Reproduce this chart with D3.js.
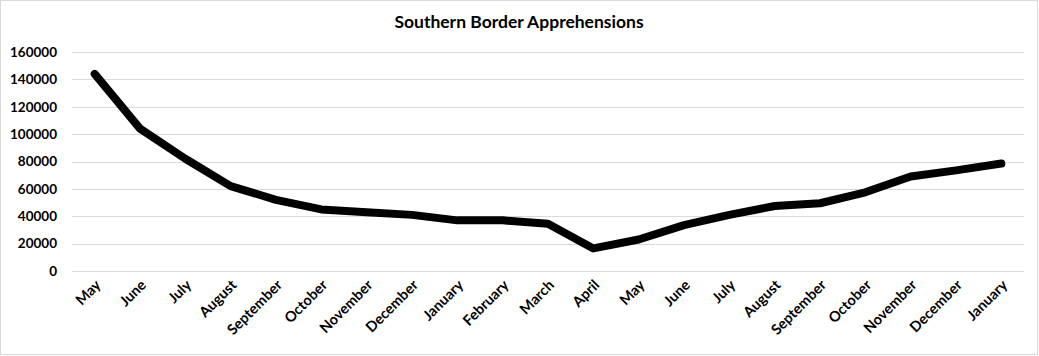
<!DOCTYPE html>
<html><head><meta charset="utf-8">
<script src="https://cdn.jsdelivr.net/npm/d3@7"></script>
<style>body{margin:0;background:#fff}svg{display:block}text{font-family:Lato,"Open Sans",sans-serif}</style>
</head><body><svg id="c" width="1039" height="356"></svg>
<script>
const months = ["May","June","July","August","September","October","November","December","January","February","March","April","May","June","July","August","September","October","November","December","January"];
const apprehensions = [144000,104000,82000,62000,52000,45000,43000,41000,37000,37000,34500,16500,23000,33500,41000,47500,49500,57500,69000,73500,78500];
const yTicks = [0,20000,40000,60000,80000,100000,120000,140000,160000];

const svg = d3.select("#c");
svg.append("rect").attr("x",0.5).attr("y",0.5).attr("width",1037).attr("height",354).attr("fill","#fff").attr("stroke","#d9d9d9");
const idx = months.map((m,i)=>i);
const x = d3.scaleBand().domain(idx).range([72,1024]);
const y = d3.scaleLinear().domain([0,160000]).range([271,52]);

svg.append("g").selectAll("line").data(yTicks).join("line")
  .attr("x1",72).attr("x2",1024).attr("y1",d=>Math.round(y(d))+0.5).attr("y2",d=>Math.round(y(d))+0.5)
  .attr("stroke","#d9d9d9").attr("stroke-width",1);

const ya = svg.append("g").attr("transform","translate(64,0)").call(d3.axisLeft(y).tickValues(yTicks).tickSize(0).tickPadding(7).tickFormat(d3.format("d")));
ya.select(".domain").remove();
ya.selectAll("text").attr("font-family","Lato,sans-serif").attr("font-size",13.5).attr("font-weight","bold").attr("fill","#000");

const xa = svg.append("g").attr("transform","translate(0,271)").call(d3.axisBottom(x).tickSize(0).tickFormat(i=>months[i]));
xa.select(".domain").remove();
xa.selectAll("text").attr("font-family","Lato,sans-serif").attr("font-size",14.5).attr("font-weight","bold").attr("fill","#000")
  .attr("text-anchor","end").attr("dy",null).attr("y",0).attr("transform","translate(7,15) rotate(-45)");

const line = d3.line().x((d,i)=>x(i)+x.bandwidth()/2).y(d=>y(d));
svg.append("path").datum(apprehensions).attr("d",line).attr("fill","none").attr("stroke","#000")
  .attr("stroke-width",8).attr("stroke-linejoin","round").attr("stroke-linecap","round");

svg.append("text").attr("x",519).attr("y",28).attr("text-anchor","middle").attr("font-size",17.5).attr("font-weight","bold").attr("fill","#000").text("Southern Border Apprehensions");
</script></body></html>
